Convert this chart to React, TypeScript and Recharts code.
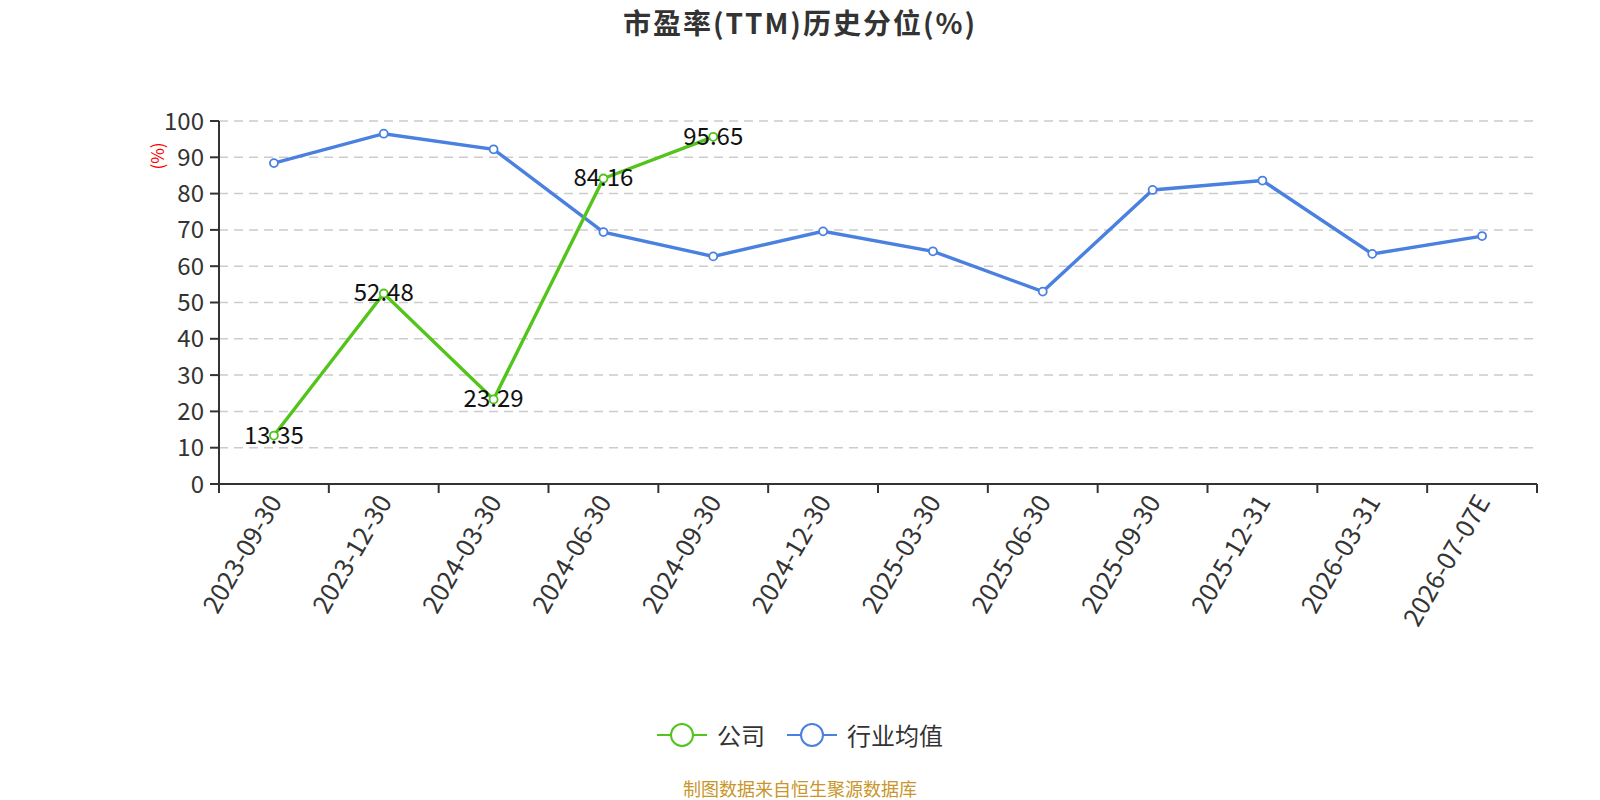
import React from 'react';
import { LineChart, Line, XAxis, YAxis, CartesianGrid, LabelList } from 'recharts';

const categories = [
    '2023-09-30', '2023-12-30', '2024-03-30', '2024-06-30', '2024-09-30', '2024-12-30',
    '2025-03-30', '2025-06-30', '2025-09-30', '2025-12-31', '2026-03-31', '2026-07-07E',
];
const companyValues = [13.35, 52.48, 23.29, 84.16, 95.65, null, null, null, null, null, null, null];
const industryValues = [88.4, 96.5, 92.2, 69.4, 62.7, 69.6, 64.1, 53.0, 81.0, 83.6, 63.4, 68.3];
const yTicks = [0, 10, 20, 30, 40, 50, 60, 70, 80, 90, 100];

const GREEN = '#52c41a';
const BLUE = '#4a80e0';
const FONT = '"Noto Sans CJK SC", "Microsoft YaHei", sans-serif';

const data = categories.map((c, i) => ({
    i,
    date: c,
    company: companyValues[i],
    industry: industryValues[i],
}));

// ticks at band edges (tick marks) and band centres (labels)
const xTicks = categories.flatMap((_, i) => [i - 0.5, i]).concat(categories.length - 0.5);

const XTick = (props: any) => {
    const { x, y, payload } = props;
    const v = payload.value;
    if (!Number.isInteger(v)) {
        return <line x1={x} x2={x} y1={y} y2={y + 9} stroke="#333" strokeWidth={2} />;
    }
    const tx = x - 1;
    const ty = y + 12;
    return (
        <text
            x={tx}
            y={ty}
            transform={`rotate(-60, ${tx}, ${ty})`}
            textAnchor="end"
            dominantBaseline="central"
            fontSize={25.5}
            fill="#333"
            fontFamily={FONT}
        >
            {categories[v]}
        </text>
    );
};

const ValueLabel = (props: any) => {
    const { x, y, value } = props;
    if (value == null) return null;
    return (
        <text x={x} y={y - 2.5} textAnchor="middle" dominantBaseline="central" fontSize={24} fill="#111" fontFamily={FONT}>
            {value.toFixed(2)}
        </text>
    );
};

const LegendIcon = ({ color }: { color: string }) => (
    <svg width={50} height={26} style={{ verticalAlign: 'middle' }}>
        <line x1={0} x2={50} y1={13} y2={13} stroke={color} strokeWidth={2} />
        <circle cx={25} cy={13} r={11} fill="#fff" stroke={color} strokeWidth={2} />
    </svg>
);

export default function App() {
    return (
        <div style={{ position: 'absolute', left: 0, top: 0, width: 1600, height: 800, fontFamily: FONT, background: '#fff' }}>
            <div style={{ position: 'absolute', top: 2, left: 0, width: 1600, textAlign: 'center', fontSize: 28, letterSpacing: 2, fontWeight: 'bold', color: '#333' }}>
                市盈率(TTM)历史分位(%)
            </div>
            <div
                style={{
                    position: 'absolute', left: 156, top: 156, color: 'red', fontSize: 17,
                    transform: 'translate(-50%, -50%) rotate(-90deg)', whiteSpace: 'nowrap',
                }}
            >
                (%)
            </div>
            <LineChart
                width={1600}
                height={800}
                data={data}
                margin={{ top: 121, right: 63, left: 159, bottom: 166 }}
            >
                <CartesianGrid horizontal vertical={false} stroke="#ccc" strokeWidth={1.5} strokeDasharray="9 6" />
                <XAxis
                    dataKey="i"
                    type="number"
                    domain={[-0.5, categories.length - 0.5]}
                    ticks={xTicks}
                    interval={0}
                    tick={<XTick />}
                    tickLine={false}
                    tickSize={0}
                    tickMargin={0}
                    height={150}
                    axisLine={{ stroke: '#333', strokeWidth: 2 }}
                />
                <YAxis
                    domain={[0, 100]}
                    ticks={yTicks}
                    width={60}
                    interval={0}
                    tick={{ fontSize: 24, fill: '#333', fontFamily: FONT }}
                    tickSize={9}
                    tickMargin={6}
                    axisLine={{ stroke: '#333', strokeWidth: 2 }}
                    tickLine={{ stroke: '#333', strokeWidth: 2 }}
                />
                <Line
                    dataKey="industry"
                    stroke={BLUE}
                    strokeWidth={3.4}
                    dot={{ r: 4, fill: '#fff', stroke: BLUE, strokeWidth: 1.8 }}
                    isAnimationActive={false}
                />
                <Line
                    dataKey="company"
                    stroke={GREEN}
                    strokeWidth={3.4}
                    dot={{ r: 4, fill: '#fff', stroke: GREEN, strokeWidth: 1.8 }}
                    isAnimationActive={false}
                >
                    <LabelList dataKey="company" content={<ValueLabel />} />
                </Line>
            </LineChart>
            <div style={{ position: 'absolute', top: 716, left: 0, width: 1600, textAlign: 'center', fontSize: 24, color: '#333', lineHeight: '32px' }}>
                <span style={{ marginRight: 22 }}>
                    <LegendIcon color={GREEN} />
                    <span style={{ verticalAlign: 'middle', marginLeft: 10 }}>公司</span>
                </span>
                <span>
                    <LegendIcon color={BLUE} />
                    <span style={{ verticalAlign: 'middle', marginLeft: 10 }}>行业均值</span>
                </span>
            </div>
            <div style={{ position: 'absolute', top: 776, left: 0, width: 1600, textAlign: 'center', fontSize: 18, color: '#c8962a', lineHeight: '24px' }}>
                制图数据来自恒生聚源数据库
            </div>
        </div>
    );
}
